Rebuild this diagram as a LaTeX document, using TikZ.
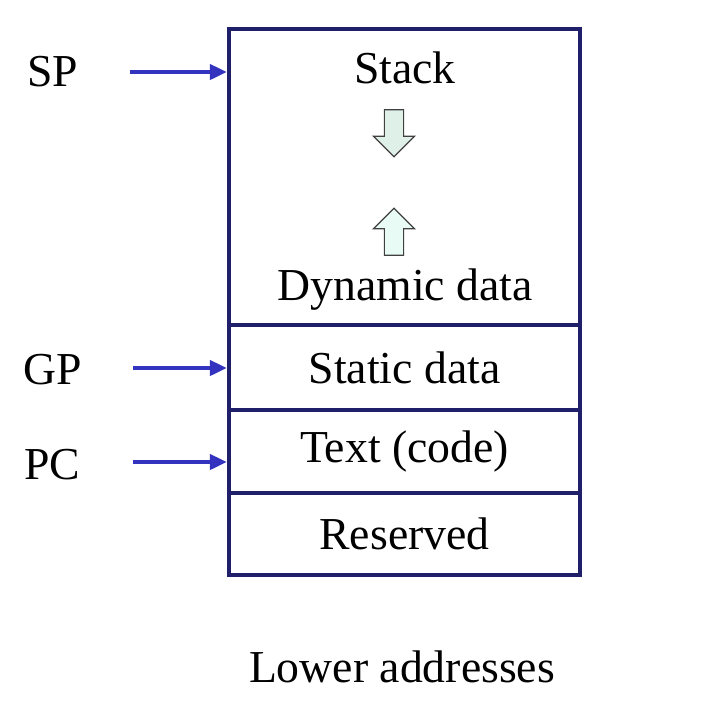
\documentclass[tikz,border=0pt]{standalone}
\usepackage{fontspec}
\setmainfont{Liberation Serif}
\usetikzlibrary{arrows.meta,shapes.arrows}

\tikzset{
  segment/.style={draw=boxnavy, line width=0.04cm, minimum width=3.51cm, inner sep=0pt},
  pointer/.style={-{Triangle[length=0.17cm,width=0.15cm]}, draw=arrowblue, line width=0.04cm},
  growarrow/.style={single arrow, draw=black!75, line width=0.012cm, inner sep=0.09cm,
    minimum height=0.47cm, minimum width=0.40cm, single arrow head extend=0.11cm}
}

\begin{document}
\begin{tikzpicture}[x=0.01cm, y=-0.01cm, font=\fontsize{13}{15}\selectfont]
   \definecolor{boxnavy}{rgb}{0.12, 0.12, 0.42}
   \definecolor{arrowblue}{rgb}{0.2, 0.2, 0.75}
   \definecolor{downfill}{rgb}{0.87, 0.94, 0.91}
   \definecolor{upfill}{rgb}{0.91, 0.99, 0.96}
   \useasboundingbox (0,0) rectangle (727,708);
   % memory segments, top to bottom
   \node [segment, minimum height=2.96cm] (stack) at (404.5,177) {};
   \node [segment, minimum height=0.85cm] (static) at (404.5,367.5) {Static data};
   \node [segment, minimum height=0.83cm] (text) at (404.5,451.5) {Text (code)};
   \node [segment, minimum height=0.82cm] (reserved) at (404.5,534) {Reserved};
   \node (stacklabel) at (405,68) {Stack};
   \node (dynlabel) at (405,290) {Dynamic data};
   \node [growarrow, fill=downfill, shape border rotate=270] (down) at (394,128.5) {};
   \node [growarrow, fill=upfill, shape border rotate=90] (up) at (394,236.5) {};
   % registers
   \node (sp) at (53,72) {SP};
   \node (gp) at (53,370) {GP};
   \node (pc) at (52,465) {PC};
   \coordinate (sptail) at (130,72);
   \coordinate (gptail) at (133,368);
   \coordinate (pctail) at (133,462);
   \draw [pointer] (sptail) -- (sptail -| stack.west);
   \draw [pointer] (gptail) -- (gptail -| static.west);
   \draw [pointer] (pctail) -- (pctail -| text.west);
   \node (lower) at (402,667) {Lower addresses};
\end{tikzpicture}
\end{document}
